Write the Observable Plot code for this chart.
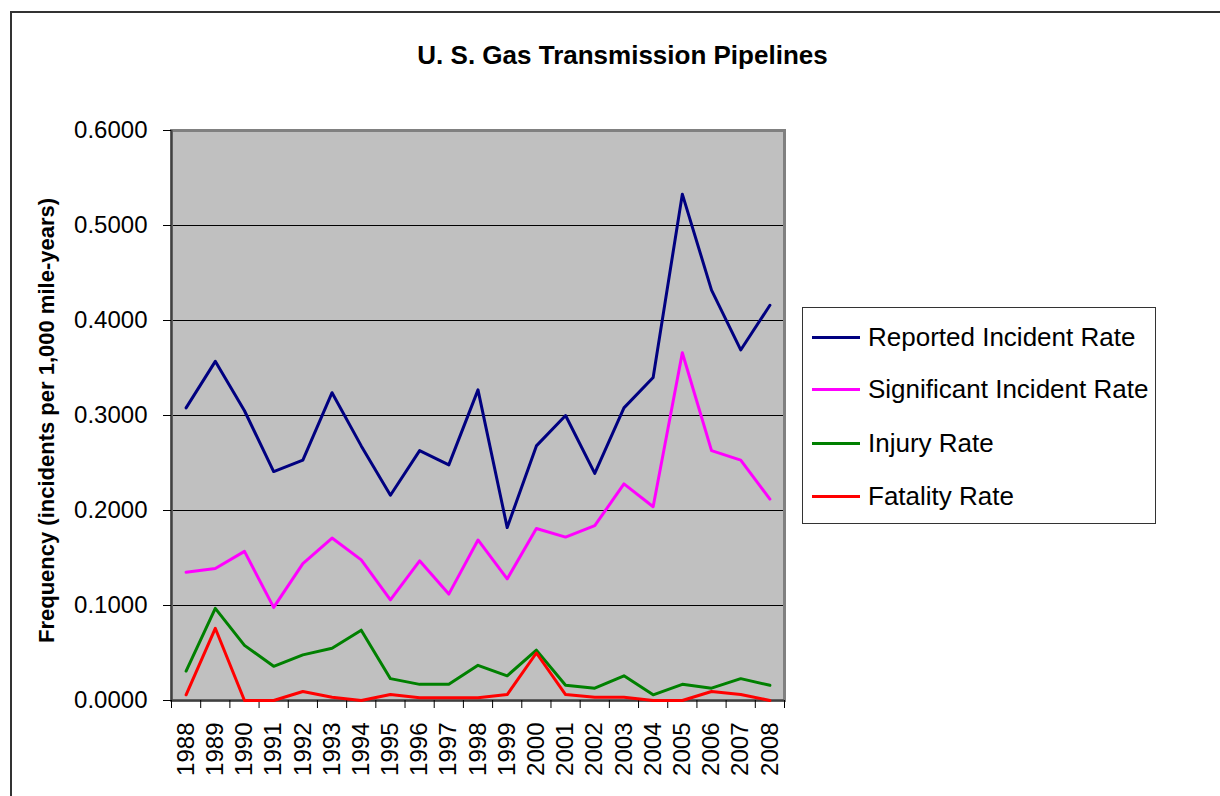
<!DOCTYPE html>
<html><head><meta charset="utf-8">
<script src="https://cdn.jsdelivr.net/npm/d3@7"></script>
<script src="https://cdn.jsdelivr.net/npm/@observablehq/plot@0.6"></script>
<style>
body{margin:0;background:#fff;}
#wrap{position:relative;width:1220px;height:796px;overflow:hidden;font-family:"Liberation Sans",Arial,sans-serif;}
#wrap svg{position:absolute;left:0;top:0;}
#border{position:absolute;left:10px;top:11px;width:1300px;height:900px;border-left:2px solid #333;border-top:2px solid #333;}
#legend{position:absolute;left:802px;top:307px;width:352px;height:215px;border:1px solid #333;background:#fff;}
.row{position:absolute;left:9px;height:30px;display:flex;align-items:center;}
.sw{width:48px;height:3px;margin-right:8px;}
.lab{font-size:26px;color:#000;white-space:nowrap;}
</style></head>
<body><div id="wrap"></div>
<script>
const title = "U. S. Gas Transmission Pipelines";
const yLabel = "Frequency (incidents per 1,000 mile-years)";
const years = [1988,1989,1990,1991,1992,1993,1994,1995,1996,1997,1998,1999,2000,2001,2002,2003,2004,2005,2006,2007,2008];
const yTicks = [0, 0.1, 0.2, 0.3, 0.4, 0.5, 0.6];
const seriesNames = ["Reported Incident Rate", "Significant Incident Rate", "Injury Rate", "Fatality Rate"];
const seriesColors = ["#000080", "#FF00FF", "#008000", "#FF0000"];
const reported = [0.308,0.357,0.305,0.241,0.253,0.324,0.268,0.216,0.263,0.248,0.327,0.182,0.268,0.300,0.239,0.308,0.340,0.533,0.432,0.369,0.416];
const significant = [0.135,0.139,0.157,0.098,0.144,0.171,0.148,0.106,0.147,0.112,0.169,0.128,0.181,0.172,0.184,0.228,0.204,0.366,0.263,0.253,0.212];
const injury = [0.031,0.097,0.058,0.036,0.048,0.055,0.074,0.023,0.017,0.017,0.037,0.026,0.053,0.016,0.013,0.026,0.006,0.017,0.013,0.023,0.016];
const fatality = [0.006,0.076,0,0,0.0095,0.0035,0,0.0063,0.003,0.003,0.003,0.0063,0.050,0.0063,0.0035,0.0035,0,0,0.0095,0.0063,0];

const seriesValues = [reported, significant, injury, fatality];
const rows = [];
seriesValues.forEach((vals, i) => vals.forEach((v, j) => rows.push({series: seriesNames[i], year: years[j], value: v})));
const boundaries = years.map(y => y - 0.5).concat([years[years.length - 1] + 0.5]);

const chart = Plot.plot({
  width: 1220,
  height: 796,
  marginLeft: 171,
  marginRight: 436,
  marginTop: 130,
  marginBottom: 96,
  style: {background: "transparent", fontFamily: "'Liberation Sans', Arial, sans-serif", fontSize: "24px", color: "#000"},
  x: {type: "linear", domain: [boundaries[0], boundaries[boundaries.length - 1]]},
  y: {domain: [0, 0.6]},
  color: {domain: seriesNames, range: seriesColors},
  marks: [
    Plot.frame({fill: "#C0C0C0"}),
    Plot.ruleY(yTicks.filter(v => v > 0 && v < 0.6), {stroke: "#000", strokeWidth: 1}),
    Plot.frame({stroke: "#808080", strokeWidth: 3}),
    Plot.ruleX([boundaries[0]], {stroke: "#404040", strokeWidth: 2}),
    Plot.ruleY([0], {stroke: "#404040", strokeWidth: 2}),
    Plot.axisY({ticks: yTicks, tickFormat: d => d.toFixed(4), tickSize: 8, tickPadding: 16, label: null, fontSize: 24}),
    Plot.axisX({ticks: boundaries, tickFormat: () => "", tickSize: 8, label: null}),
    Plot.axisX({ticks: years, tickFormat: d => String(d), tickSize: 0, tickPadding: 22, tickRotate: -90, label: null, fontSize: 24}),
    Plot.line(rows, {x: "year", y: "value", z: "series", stroke: "series", strokeWidth: 3, strokeLinejoin: "round", strokeLinecap: "round"}),
    Plot.text([title], {frameAnchor: "top", dx: 144.5, dy: -67, lineAnchor: "bottom", fontSize: 26, fontWeight: "bold", fill: "#000"}),
    Plot.text([yLabel], {frameAnchor: "left", textAnchor: "middle", rotate: -90, dx: -125, dy: 5, lineAnchor: "middle", fontSize: 22, fontWeight: "bold", fill: "#000"})
  ]
});

const wrap = document.getElementById("wrap");
wrap.appendChild(chart);
const border = document.createElement("div");
border.id = "border";
wrap.appendChild(border);
const legend = document.createElement("div");
legend.id = "legend";
const rowTops = [14, 66, 120, 173];
seriesNames.forEach((name, i) => {
  const r = document.createElement("div");
  r.className = "row";
  r.style.top = rowTops[i] + "px";
  const sw = document.createElement("div");
  sw.className = "sw";
  sw.style.background = seriesColors[i];
  const lab = document.createElement("span");
  lab.className = "lab";
  lab.textContent = name;
  r.appendChild(sw);
  r.appendChild(lab);
  legend.appendChild(r);
});
wrap.appendChild(legend);
</script>
</body></html>
